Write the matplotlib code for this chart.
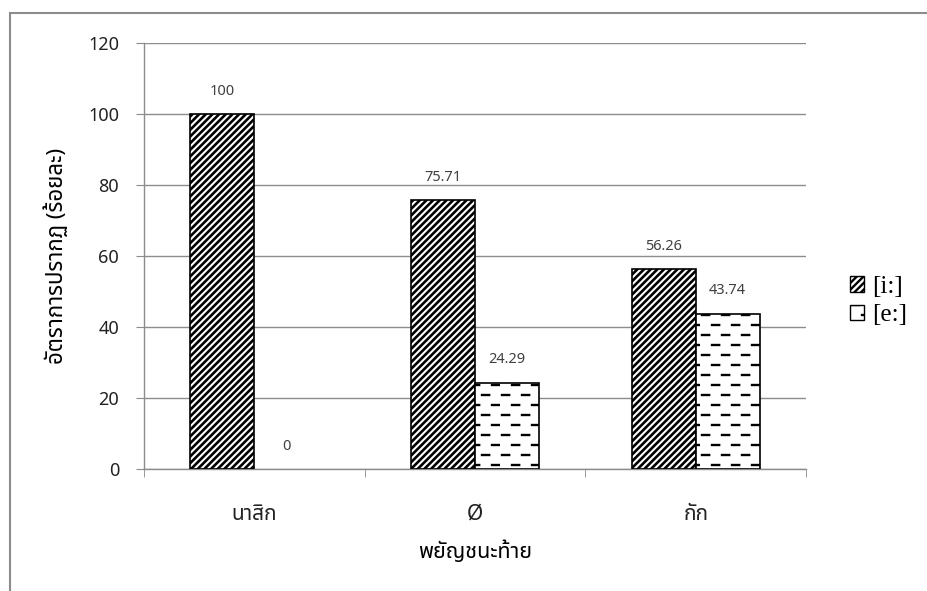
import warnings
import numpy as np
import matplotlib
matplotlib.use("Agg")
import matplotlib.pyplot as plt
from matplotlib import font_manager, hatch as mhatch
from matplotlib.path import Path
from matplotlib.patches import Rectangle
from matplotlib.ft2font import FT2Font

warnings.filterwarnings("ignore")

categories = ["นาสิก", "Ø", "กัก"]
series_names = ["[i:]", "[e:]"]
vals_i = [100, 75.71, 56.26]
vals_e = [0, 24.29, 43.74]
labels_i = ["100", "75.71", "56.26"]
labels_e = ["0", "24.29", "43.74"]

# pick a loopless Thai font if one is around
names = {f.name for f in font_manager.fontManager.ttflist}
thai = None
for cand in ["Noto Sans Thai", "Noto Sans Thai UI", "Noto Sans Thai Looped", "Sarabun", "Kanit", "Prompt"]:
    if cand in names:
        thai = cand
        break
if thai is None:
    for f in font_manager.fontManager.ttflist:
        try:
            if FT2Font(f.fname).get_char_index(ord('ก')):
                thai = f.name
                break
        except Exception:
            pass
fam = [thai, "DejaVu Sans"]


# dashed horizontal hatch (staggered dashes), used with '_'
class DashHatch(mhatch.HatchPatternBase):
    def __init__(self, hatch, density):
        self.rows = 10 * hatch.count('_')
        self.cols = 5
        self.num_vertices = self.rows * self.cols * 2

    def set_vertices_and_codes(self, vertices, codes):
        k = 0
        for i in range(self.rows):
            y = (i + 0.5) / self.rows
            off = 0.5 * (i % 2)
            for j in range(self.cols):
                x0 = (j + off + 0.1) / self.cols
                vertices[k] = (x0, y)
                vertices[k + 1] = (x0 + 0.36 / self.cols, y)
                codes[k] = Path.MOVETO
                codes[k + 1] = Path.LINETO
                k += 2


mhatch._hatch_types.append(DashHatch)

plt.rcParams['font.family'] = fam

fig = plt.figure(figsize=(9.27, 5.91), dpi=100)
ax = fig.add_axes([144 / 927, 1 - 469 / 591, 662 / 927, 426 / 591])

x = np.arange(len(categories))
w = 0.29
plt.rcParams['hatch.linewidth'] = 1.9
b1 = ax.bar(x - w / 2, vals_i, w, color="white", edgecolor="black", hatch="/////", linewidth=1.2, zorder=3)
plt.rcParams['hatch.linewidth'] = 1.7
b2 = ax.bar(x + w / 2, vals_e, w, color="white", edgecolor="black", hatch="_", linewidth=1.2, zorder=3)
for bars, lw in ((b1, 1.9), (b2, 1.7)):
    for r in bars:
        if hasattr(r, "set_hatch_linewidth"):
            r.set_hatch_linewidth(lw)

# legend handles taken before hiding the outline of the zero-height bar
handles = [Rectangle((0, 0), 1, 1, facecolor="white", edgecolor="black", hatch=h, linewidth=1.0)
           for h in ("/////", "_")]
for bars in (b1, b2):
    for r in bars:
        if r.get_height() == 0:
            r.set_linewidth(0)

for bars, labs in ((b1, labels_i), (b2, labels_e)):
    for r, t in zip(bars, labs):
        ax.annotate(t, (r.get_x() + r.get_width() / 2, r.get_height()), xytext=(0, 16.5),
                    textcoords="offset points", ha="center", va="center",
                    fontsize=10.5, color="#404040")

ax.set_xlim(-0.5, 2.5)
ax.set_ylim(0, 120)
ax.set_yticks(np.arange(0, 121, 20))
ax.yaxis.grid(True, color="#8c8c8c", linewidth=1.0, zorder=0)
ax.set_axisbelow(True)
for s in ("top", "right"):
    ax.spines[s].set_visible(False)
for s in ("left", "bottom"):
    ax.spines[s].set_color("#8c8c8c")
    ax.spines[s].set_linewidth(1.0)

ax.set_xticks(x)
ax.set_xticklabels(categories, fontsize=15)
ax.set_xticks([-0.5, 0.5, 1.5, 2.5], minor=True)
ax.tick_params(axis="x", which="major", length=0, pad=25, labelcolor="#222222")
ax.tick_params(axis="x", which="minor", length=6, color="#8c8c8c", direction="out")
ax.tick_params(axis="y", length=6, color="#8c8c8c", pad=12, labelsize=13, labelcolor="#222222")

ax.set_ylabel("อัตราการปรากฏ (ร้อยละ)", fontsize=16)
ax.yaxis.set_label_coords(-0.134, 0.5)
ax.yaxis.label.set_va("center")
ax.set_xlabel("พยัญชนะท้าย", fontsize=15.5)
ax.xaxis.set_label_coords(0.5, -0.195)
ax.xaxis.label.set_va("center")

leg = ax.legend(handles, series_names, loc="center left", bbox_to_anchor=(850 / 927, 1 - 301 / 591),
                bbox_transform=fig.transFigure, frameon=False, handlelength=0.57, handleheight=0.57,
                handletextpad=0.3, labelspacing=0.25, borderpad=0, borderaxespad=0,
                prop={"family": "Liberation Serif", "size": 18})
for p in leg.get_patches():
    if hasattr(p, "set_hatch_linewidth"):
        p.set_hatch_linewidth(1.7)

# outer chart frame, runs off the right and bottom edges
fig.patches.append(Rectangle((10 / 927, -0.1), 1.2, 1.1 - 13 / 591,
                             transform=fig.transFigure, fill=False, edgecolor="#8c8c8c",
                             linewidth=1.5))

fig.savefig("out.png", dpi=100)
